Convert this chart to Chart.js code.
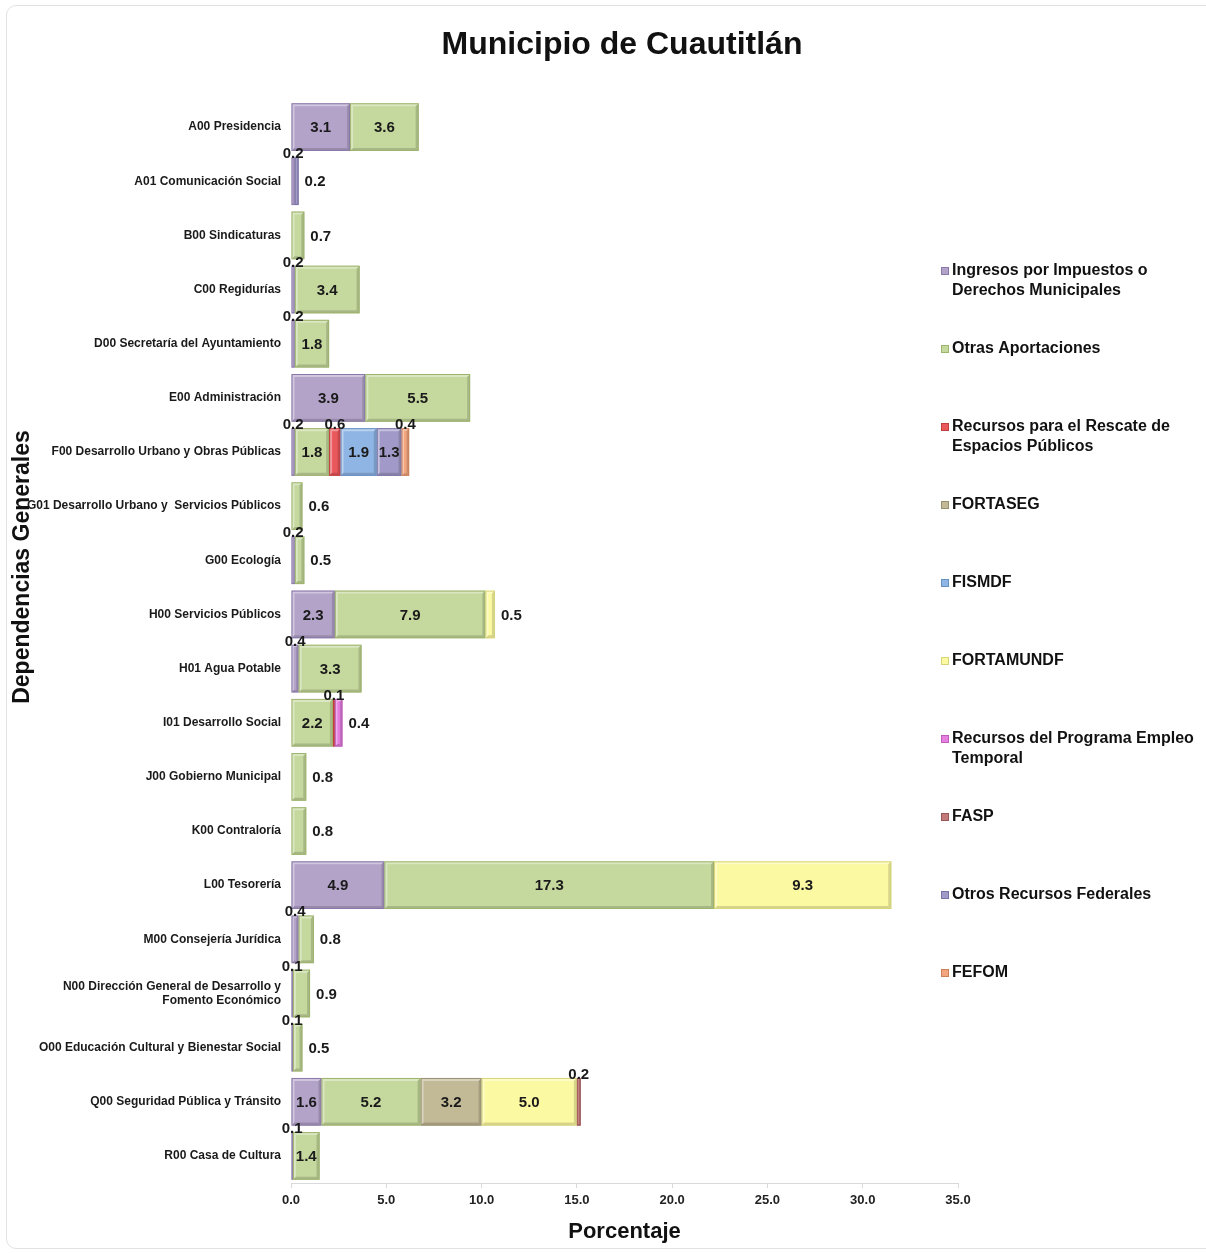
<!DOCTYPE html>
<html>
<head>
<meta charset="utf-8">
<script src="https://cdn.jsdelivr.net/npm/chart.js@4.4.1/dist/chart.umd.min.js"></script>
<style>
  body { margin: 0; background: #fff; }
  #wrap { position: relative; width: 1206px; height: 1253px; overflow: hidden; }
  #frame { position: absolute; left: 6px; top: 5px; width: 1220px; height: 1244px; border: 1px solid #e2e2e2; border-radius: 10px; box-sizing: border-box; }
  #salesChart { position: absolute; left: 0; top: 0; }
</style>
</head>
<body>
<div id="wrap">
  <div id="frame"></div>
  <canvas id="salesChart" width="1206" height="1253"></canvas>
</div>
<script>
const categories = [
  'A00 Presidencia',
  'A01 Comunicación Social',
  'B00 Sindicaturas',
  'C00 Regidurías',
  'D00 Secretaría del Ayuntamiento',
  'E00 Administración',
  'F00 Desarrollo Urbano y Obras Públicas',
  'G01 Desarrollo Urbano y  Servicios Públicos',
  'G00 Ecología',
  'H00 Servicios Públicos',
  'H01 Agua Potable',
  'I01 Desarrollo Social',
  'J00 Gobierno Municipal',
  'K00 Contraloría',
  'L00 Tesorería',
  'M00 Consejería Jurídica',
  ['N00 Dirección General de Desarrollo y', 'Fomento Económico'],
  'O00 Educación Cultural y Bienestar Social',
  'Q00 Seguridad Pública y Tránsito',
  'R00 Casa de Cultura'
];

// one value per dependencia, null = no aportación
const ingresos   = [3.1, 0.2, null, 0.2, 0.2, 3.9, 0.2, null, 0.2, 2.3, 0.4, null, null, null, 4.9, 0.4, 0.1, 0.1, 1.6, 0.1];
const otras      = [3.6, null, 0.7, 3.4, 1.8, 5.5, 1.8, 0.6, 0.5, 7.9, 3.3, 2.2, 0.8, 0.8, 17.3, 0.8, 0.9, 0.5, 5.2, 1.4];
const rescate    = [null, null, null, null, null, null, 0.6, null, null, null, null, 0.1, null, null, null, null, null, null, null, null];
const fortaseg   = [null, null, null, null, null, null, null, null, null, null, null, null, null, null, null, null, null, null, 3.2, null];
const fismdf     = [null, null, null, null, null, null, 1.9, null, null, null, null, null, null, null, null, null, null, null, null, null];
const fortamundf = [null, null, null, null, null, null, null, null, null, 0.5, null, null, null, null, 9.3, null, null, null, 5.0, null];
const empleo     = [null, null, null, null, null, null, null, null, null, null, null, 0.4, null, null, null, null, null, null, null, null];
const fasp       = [null, null, null, null, null, null, null, null, null, null, null, null, null, null, null, null, null, null, 0.2, null];
const otrosFed   = [null, 0.2, null, null, null, null, 1.3, null, null, null, null, null, null, null, null, null, null, null, null, null];
const fefom      = [null, null, null, null, null, null, 0.4, null, null, null, null, null, null, null, null, null, null, null, null, null];

const xTicks = [0, 5, 10, 15, 20, 25, 30, 35];

const FONT = "'Liberation Sans', Arial, sans-serif";

function serie(label, data, fill, edge, smallPos) {
    return {
        label: label,
        data: data,
        backgroundColor: fill,
        borderColor: edge,
        borderWidth: 0,
        smallPos: smallPos,
        barPercentage: 0.88,
        categoryPercentage: 1.0
    };
}

const datasets = [
    serie('Ingresos por Impuestos o Derechos Municipales', ingresos, '#b3a3c9', '#8a78aa', 'above'),
    serie('Otras Aportaciones', otras, '#c5d89d', '#9db46c', 'right'),
    serie('Recursos para el Rescate de Espacios Públicos', rescate, '#e9585b', '#c03d40', 'above'),
    serie('FORTASEG', fortaseg, '#c2b996', '#97906f', 'above'),
    serie('FISMDF', fismdf, '#8fb5e4', '#6690c4', 'above'),
    serie('FORTAMUNDF', fortamundf, '#fcf9a3', '#d8d47a', 'right'),
    serie('Recursos del Programa Empleo Temporal', empleo, '#e57fe0', '#bd5cb9', 'right'),
    serie('FASP', fasp, '#c27a7c', '#9c5557', 'above'),
    serie('Otros Recursos Federales', otrosFed, '#a19ac8', '#7a73a6', 'right'),
    serie('FEFOM', fefom, '#f1a67e', '#cc8058', 'above')
];

// Excel-like bevel on each segment
const bevelPlugin = {
    id: 'bevel',
    afterDatasetsDraw(chart) {
        const ctx = chart.ctx;
        chart.data.datasets.forEach((ds, di) => {
            const meta = chart.getDatasetMeta(di);
            meta.data.forEach((bar, i) => {
                if (ds.data[i] == null) return;
                const x0 = Math.min(bar.base, bar.x), x1 = Math.max(bar.base, bar.x);
                const y0 = bar.y - bar.height / 2, y1 = bar.y + bar.height / 2;
                const w = x1 - x0, h = y1 - y0;
                const b = Math.min(3, w / 3);
                ctx.save();
                ctx.fillStyle = 'rgba(255,255,255,0.38)';
                ctx.beginPath();
                ctx.moveTo(x0, y0); ctx.lineTo(x1, y0); ctx.lineTo(x1 - b, y0 + b);
                ctx.lineTo(x0 + b, y0 + b); ctx.lineTo(x0 + b, y1 - b); ctx.lineTo(x0, y1);
                ctx.closePath(); ctx.fill();
                ctx.fillStyle = 'rgba(0,0,0,0.15)';
                ctx.beginPath();
                ctx.moveTo(x1, y0); ctx.lineTo(x1, y1); ctx.lineTo(x0, y1);
                ctx.lineTo(x0 + b, y1 - b); ctx.lineTo(x1 - b, y1 - b); ctx.lineTo(x1 - b, y0 + b);
                ctx.closePath(); ctx.fill();
                ctx.strokeStyle = ds.borderColor;
                ctx.lineWidth = 1;
                ctx.strokeRect(x0 + 0.5, y0 + 0.5, Math.max(w - 1, 0), h - 1);
                ctx.restore();
            });
        });
    }
};

// value labels: inside when wide enough, otherwise above or to the right
const valuePlugin = {
    id: 'values',
    afterDatasetsDraw(chart) {
        const ctx = chart.ctx;
        const sets = chart.data.datasets;
        ctx.save();
        ctx.font = 'bold 15px ' + FONT;
        ctx.fillStyle = '#1a1a1a';
        sets.forEach((ds, di) => {
            const meta = chart.getDatasetMeta(di);
            meta.data.forEach((bar, i) => {
                const v = ds.data[i];
                if (v == null) return;
                const txt = v.toFixed(1);
                const x0 = Math.min(bar.base, bar.x), x1 = Math.max(bar.base, bar.x);
                const top = bar.y - bar.height / 2;
                if (v >= 1.0) {
                    ctx.textAlign = 'center';
                    ctx.textBaseline = 'middle';
                    ctx.fillText(txt, (x0 + x1) / 2, bar.y + 1);
                } else if (ds.smallPos === 'above') {
                    ctx.textAlign = 'center';
                    ctx.textBaseline = 'alphabetic';
                    ctx.fillText(txt, (x0 + x1) / 2, top + 1);
                } else {
                    ctx.textAlign = 'left';
                    ctx.textBaseline = 'middle';
                    ctx.fillText(txt, x1 + 6, bar.y + 1);
                }
            });
        });
        ctx.restore();
    }
};

// title, y axis title and legend on the right
const decorPlugin = {
    id: 'decor',
    afterDraw(chart) {
        const ctx = chart.ctx;
        ctx.save();
        ctx.fillStyle = '#111';
        ctx.font = 'bold 32px ' + FONT;
        ctx.textAlign = 'center';
        ctx.textBaseline = 'middle';
        ctx.fillText('Municipio de Cuautitlán', 622, 45);

        ctx.save();
        ctx.translate(23, 567);
        ctx.rotate(-Math.PI / 2);
        ctx.font = 'bold 23px ' + FONT;
        ctx.fillText('Dependencias Generales', 0, 0);
        ctx.restore();

        ctx.font = 'bold 16px ' + FONT;
        ctx.textAlign = 'left';
        let y = 271;
        chart.data.datasets.forEach(ds => {
            const words = ds.label.split(' ');
            const lines = [];
            let line = '';
            words.forEach(wd => {
                const test = line ? line + ' ' + wd : wd;
                if (ctx.measureText(test).width > 250 && line) {
                    lines.push(line);
                    line = wd;
                } else {
                    line = test;
                }
            });
            lines.push(line);
            ctx.fillStyle = ds.backgroundColor;
            ctx.fillRect(941, y - 4, 8, 8);
            ctx.strokeStyle = ds.borderColor;
            ctx.lineWidth = 1;
            ctx.strokeRect(941.5, y - 3.5, 7, 7);
            ctx.fillStyle = '#111';
            lines.forEach((ln, k) => ctx.fillText(ln, 952, y + k * 20));
            y += 78;
        });
        ctx.restore();
    }
};

new Chart(document.getElementById('salesChart'), {
    type: 'bar',
    data: {
        labels: categories,
        datasets: datasets
    },
    options: {
        indexAxis: 'y',
        responsive: false,
        animation: false,
        layout: {
            padding: { top: 100, right: 248, bottom: 0, left: 8 }
        },
        plugins: {
            legend: { display: false },
            title: { display: false },
            tooltip: { enabled: false }
        },
        scales: {
            x: {
                stacked: true,
                min: 0,
                max: 35,
                afterBuildTicks: function (scale) {
                    scale.ticks = xTicks.map(v => ({ value: v }));
                },
                ticks: {
                    callback: function (value) {
                        return Number(value).toFixed(1);
                    },
                    font: { family: FONT, size: 13, weight: 'bold' },
                    color: '#222',
                    padding: 5,
                    maxRotation: 0
                },
                grid: {
                    drawOnChartArea: false,
                    drawTicks: true,
                    tickLength: 5,
                    color: '#d9d9d9'
                },
                border: { color: '#d9d9d9' },
                title: {
                    display: true,
                    text: 'Porcentaje',
                    font: { family: FONT, size: 22, weight: 'bold' },
                    color: '#111',
                    padding: { top: 4, bottom: 8 }
                },
                afterFit: function (scale) {
                    scale.height = 70;
                }
            },
            y: {
                stacked: true,
                ticks: {
                    autoSkip: false,
                    font: { family: FONT, size: 12, weight: 'bold' },
                    color: '#1a1a1a',
                    padding: 10
                },
                grid: { display: false, drawTicks: false },
                border: { display: false },
                afterFit: function (scale) {
                    scale.width = 283;
                }
            }
        }
    },
    plugins: [bevelPlugin, valuePlugin, decorPlugin]
});
</script>
</body>
</html>
